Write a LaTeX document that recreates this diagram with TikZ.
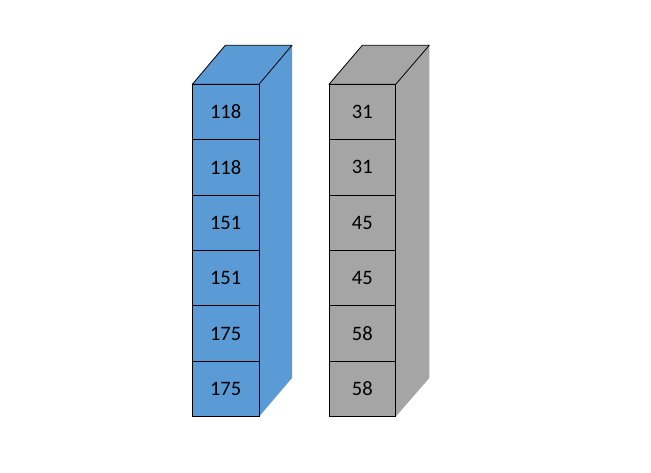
\documentclass[tikz,border=0pt]{standalone}
\usepackage{fontspec}
\setmainfont{Carlito}
\definecolor{cblue}{HTML}{5B9BD5}
\definecolor{cgray}{HTML}{A5A5A5}
\tikzset{
  cell/.style={draw=black, line width=0.8pt, minimum width=66.7pt, minimum height=55.4pt, inner sep=0pt, outer sep=0pt, font=\fontsize{20.5}{20.5}\selectfont, anchor=north west},
  topface/.style={draw=black, line width=0.8pt, line join=round},
}
\begin{document}
\begin{tikzpicture}[x=1pt,y=-1pt]
\useasboundingbox (0,0) rectangle (651,473);
% blue column
\fill[cblue] (259,84.3) -- (292,45.3) -- (292,378) -- (259,416.7) -- cycle;
\filldraw[topface, fill=cblue] (192.3,84.3) -- (225.3,45.3) -- (292,45.3) -- (259,84.3) -- cycle;
\foreach \v [count=\i from 0] in {118,118,151,151,175,175} {
  \node[cell, fill=cblue] (b\i) at (192.3, 84.3+55.4*\i) {\v};
}
% gray column
\fill[cgray] (395.7,84.3) -- (429.3,45.3) -- (429.3,378) -- (395.7,416.7) -- cycle;
\filldraw[topface, fill=cgray] (329,84.3) -- (362.3,45.3) -- (429.3,45.3) -- (395.7,84.3) -- cycle;
\foreach \v [count=\i from 0] in {31,31,45,45,58,58} {
  \node[cell, fill=cgray] (g\i) at (329, 84.3+55.4*\i) {\v};
}
\end{tikzpicture}
\end{document}
